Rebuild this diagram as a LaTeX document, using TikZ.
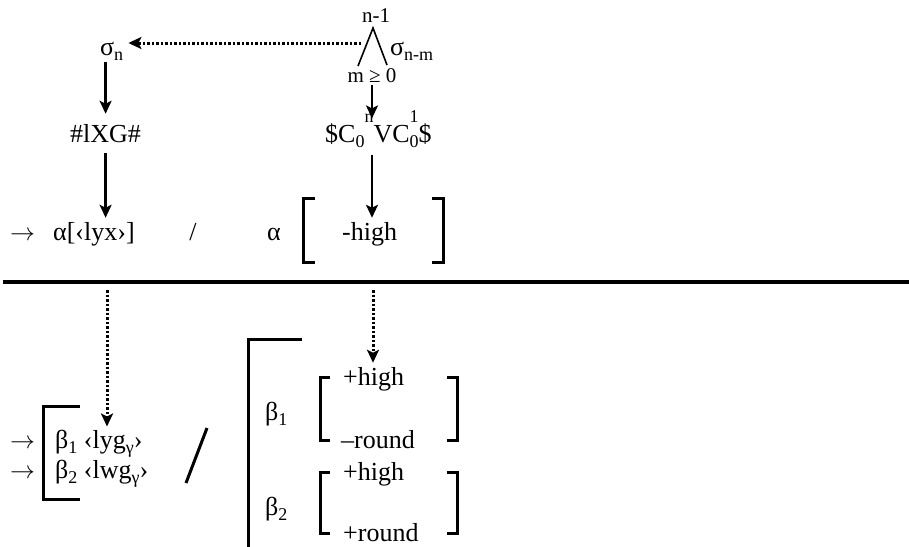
\documentclass[tikz,border=0pt]{standalone}
\usepackage{fontspec}
\setmainfont{Liberation Serif}
\usetikzlibrary{arrows.meta}
\newcommand\lo[1]{\raisebox{-0.2em}{\fontsize{18}{18}\selectfont #1}}
\newcommand\hiS[1]{\raisebox{0.75em}{\fontsize{18}{18}\selectfont #1}}
\newcommand\stk[2]{\rlap{\raisebox{0.75em}{\fontsize{18}{18}\selectfont #1}}\raisebox{-0.2em}{\fontsize{18}{18}\selectfont #2}}
\tikzset{
  txt/.style={inner sep=0pt, font=\fontsize{26}{30}\selectfont},
  sml/.style={inner sep=0pt, font=\fontsize{21}{24}\selectfont},
  arr/.style={line width=2.2pt, -{Stealth[length=13pt,width=12pt,inset=3pt]}},
  dotarr/.style={line width=3pt, dash pattern=on 2.5pt off 2pt, -{Stealth[length=13pt,width=12pt,inset=3pt]}},
  brk/.style={line width=3pt},
}
\begin{document}
\begin{tikzpicture}[x=1pt,y=-1pt]
\path[use as bounding box] (0,0) rectangle (909,546);
% --- top part
\node[sml, anchor=base] (n1) at (376,22) {n-1};
\coordinate (peak) at (373,28);
\coordinate (lfoot) at (358,66);
\coordinate (rfoot) at (387,65);
\draw[line width=1.6pt] (lfoot) -- (peak) -- (rfoot);
\node[txt, anchor=base west] (snm) at (390,55) {σ\lo{n-m}};
\node[sml, anchor=base] (mg) at (372,82) {m ≥ 0};
\node[txt, anchor=base west] (sn) at (100,55) {σ\lo{n}};
\coordinate (dstart) at (361,43);
\draw[dotarr] (dstart) -- ([xshift=5pt]sn.east |- dstart);
\node[txt, anchor=base west] (lxg) at (70,142) {\#lXG\#};
\node[txt, anchor=base west] (cvc) at (325,142) {\$C\lo{0}\hiS{n}VC\stk{1}{0}\$};
% --- rule row
\node[txt, anchor=base west] (ar1) at (10,240) {$\rightarrow$};
\node[txt, anchor=base west] (al) at (53,240) {α[‹lyx›]};
\node[txt, anchor=base] (sl1) at (193,240) {/};
\node[txt, anchor=base west] (al2) at (267,240) {α};
\node[txt, anchor=base west] (high) at (342,240) {-high};
\draw[brk] (315,198) -- (303,198) -- (303,262) -- (315,262);
\draw[brk] (432,198) -- (443,198) -- (443,262) -- (432,262);
% arrows top
\draw[arr] ([yshift=-2pt]sn.south -| lxg.north) -- ([yshift=10pt]lxg.north);
\draw[arr] ([yshift=-11pt]lxg.south) -- ([yshift=4pt]lxg.south |- al.north);
\draw[arr] ([yshift=-3pt]mg.south) -- ([yshift=-8pt]mg.south |- cvc.north);
\draw[arr] ([yshift=-7pt]cvc.south -| mg.south) -- ([yshift=4pt]high.north -| mg.south);
% --- horizontal rule
\draw[line width=4pt] (3,282) -- (909,282);
% --- bottom part
\node[txt, anchor=base west] (ar2) at (10,448) {$\rightarrow$};
\node[txt, anchor=base west] (ar3) at (10,478) {$\rightarrow$};
\node[txt, anchor=base west] (b1) at (55,448) {β\lo{1} ‹lyg\lo{γ}›};
\node[txt, anchor=base west] (b2) at (55,478) {β\lo{2} ‹lwg\lo{γ}›};
\draw[brk] (80,406) -- (43,406) -- (43,499) -- (80,499);
\draw[line width=3pt] (186,483) -- (207,428);
\draw[brk] (302,339) -- (248,339) -- (248,550);
\node[txt, anchor=base west] (bb1) at (265,420) {β\lo{1}};
\node[txt, anchor=base west] (bb2) at (265,515) {β\lo{2}};
\node[txt, anchor=base west] (h1) at (343,385) {+high};
\node[txt, anchor=base west] (r1) at (341,448) {–round};
\node[txt, anchor=base west] (h2) at (343,480) {+high};
\node[txt, anchor=base west] (r2) at (343,541) {+round};
\draw[brk] (330,377) -- (320,377) -- (320,440) -- (330,440);
\draw[brk] (447,377) -- (457,377) -- (457,440) -- (447,440);
\draw[brk] (330,472) -- (320,472) -- (320,533) -- (330,533);
\draw[brk] (447,472) -- (457,472) -- (457,533) -- (447,533);
% dotted arrows
\coordinate (d1s) at (107,290);
\coordinate (d2s) at (373,290);
\draw[dotarr] (d1s) -- ([yshift=3pt]d1s |- b1.north);
\draw[dotarr] (d2s) -- ([yshift=4pt]d2s |- h1.north);
\end{tikzpicture}
\end{document}
